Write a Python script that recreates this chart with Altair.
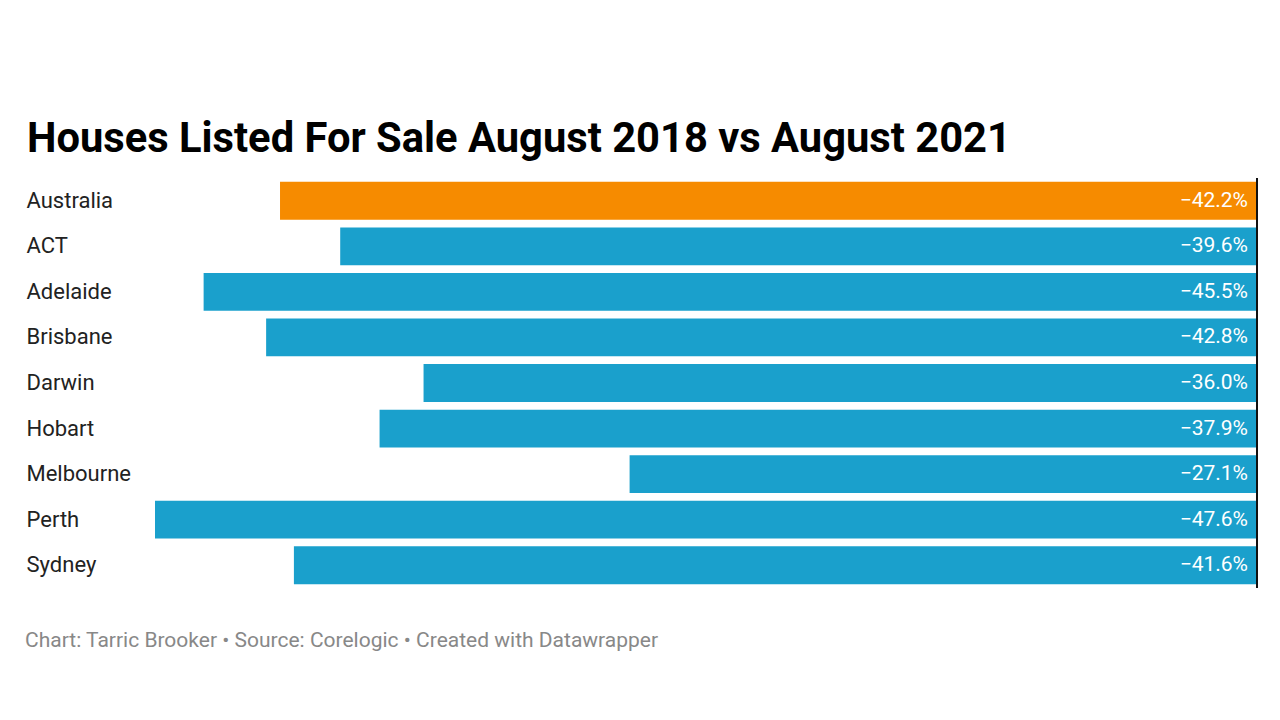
import altair as alt
import pandas as pd

regions = ["Australia", "ACT", "Adelaide", "Brisbane", "Darwin", "Hobart", "Melbourne", "Perth", "Sydney"]
changes = [-42.2, -39.6, -45.5, -42.8, -36.0, -37.9, -27.1, -47.6, -41.6]
highlight = ["Australia"]

title_text = "Houses Listed For Sale August 2018 vs August 2021"
footer_text = "Chart: Tarric Brooker \u2022 Source: Corelogic \u2022 Created with Datawrapper"

df = pd.DataFrame({"region": regions, "change": changes})
df["label"] = df["change"].map(lambda v: "\u2212" + f"{abs(v):.1f}%")
df["group"] = ["highlight" if r in highlight else "other" for r in regions]

base = alt.Chart(df)

y = alt.Y(
    "region:N",
    sort=regions,
    scale=alt.Scale(paddingInner=0.17, paddingOuter=0.085),
    axis=alt.Axis(
        title=None, labelAlign="left", labelPadding=129, ticks=False, tickSize=0,
        domain=False, labelFontSize=22, labelColor="#222222", labelFont="Roboto",
    ),
)
x = alt.X("change:Q", scale=alt.Scale(domain=[-47.6, 0], nice=False), axis=None)

bars = base.mark_bar().encode(
    x=x,
    y=y,
    color=alt.Color(
        "group:N",
        scale=alt.Scale(domain=["highlight", "other"], range=["#F68B00", "#1AA0CC"]),
        legend=None,
    ),
)

labels = base.mark_text(
    align="right", baseline="middle", dx=-9, fontSize=21, font="Roboto", color="white"
).encode(x=alt.datum(0), y=alt.Y("region:N", sort=regions), text="label:N")

rule = base.mark_rule(color="#111111", strokeWidth=2).encode(x=alt.datum(0))

footer = alt.Chart(pd.DataFrame({"t": [footer_text]})).mark_text(
    align="left", baseline="middle", fontSize=21, font="Roboto", color="#888888"
).encode(x=alt.value(-130), y=alt.value(463), text="t:N")

chart = alt.layer(bars, labels, rule, footer).properties(
    width=1102,
    height=410,
    background="white",
    autosize=alt.AutoSizeParams(type="none"),
    padding={"left": 155, "top": 178, "right": 23, "bottom": 132},
    title=alt.TitleParams(
        title_text, anchor="start", fontSize=41.7, font="Roboto",
        fontWeight="bold", color="#000000", offset=24, baseline="alphabetic", dy=41, dx=2,
    ),
).configure_view(strokeWidth=0, stroke="transparent")

chart.save("out.html", embed_options={"renderer": "svg", "actions": False})
